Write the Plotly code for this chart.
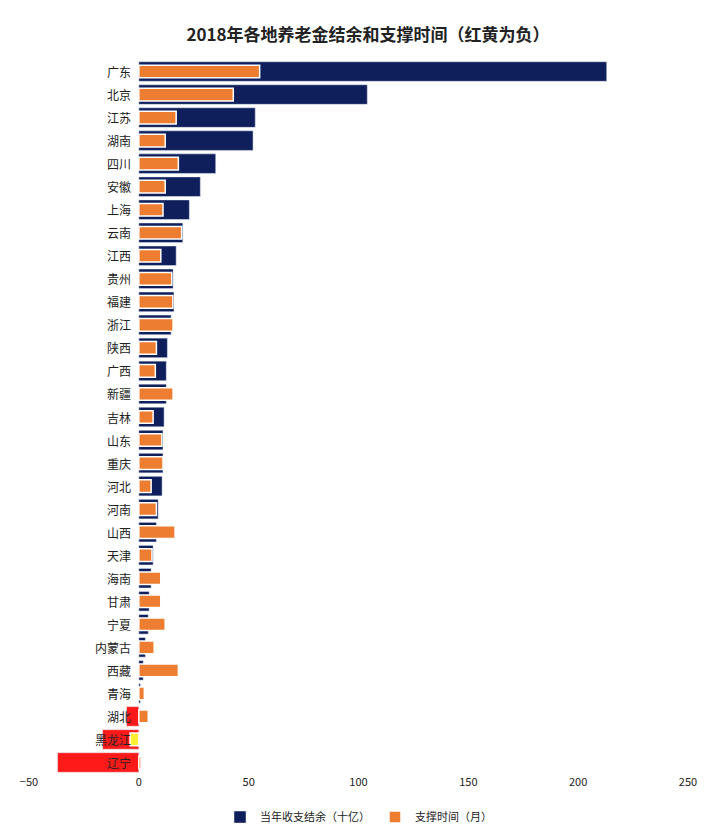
import plotly.graph_objects as go

provinces = ["广东","北京","江苏","湖南","四川","安徽","上海","云南","江西","贵州","福建","浙江","陕西","广西","新疆","吉林","山东","重庆","河北","河南","山西","天津","海南","甘肃","宁夏","内蒙古","西藏","青海","湖北","黑龙江","辽宁"]
balance = [213,104,53,52,35,28,23,20,17,15.6,16,14.7,13,12.5,12.5,11.5,11,11,10.6,8.8,8,6.5,5.6,4.7,4.3,3,2,0.7,-5.6,-16.5,-37]
months = [55,43,17,12,18,12,11,19.5,10,15,15.5,15.6,8,7.5,15.6,6.5,10.5,11,5.6,8,16.5,6,10,10,12,7,18,2.5,4.3,-4,1]

bal_colors = ["#0f1f5c" if v >= 0 else "#ff1a1a" for v in balance]
mon_colors = ["#ed7d31" if v >= 0 else "#ffee33" for v in months]

fig = go.Figure()
fig.add_trace(go.Bar(y=provinces, x=balance, orientation="h", name="当年收支结余（十亿）",
                     marker=dict(color=bal_colors), width=0.85))
fig.add_trace(go.Bar(y=provinces, x=months, orientation="h", name="支撑时间（月）",
                     marker=dict(color=mon_colors, line=dict(color="white", width=1.5)), width=0.55))

for p in provinces:
    fig.add_annotation(x=0, y=p, text=p, showarrow=False, xanchor="right", xshift=-6,
                       font=dict(size=12, color="#222"))

fig.update_layout(
    width=720, height=836, barmode="overlay", bargap=0.1,
    title=dict(text="<b>2018年各地养老金结余和支撑时间（红黄为负）</b>", x=0.5, y=0.975,
               font=dict(size=17, color="#222")),
    font=dict(family="Noto Sans CJK SC", size=11, color="#222"),
    plot_bgcolor="white", paper_bgcolor="white",
    margin=dict(l=17, r=40, t=52, b=58),
    xaxis=dict(range=[-50, 250], tickvals=[-50,0,50,100,150,200,250], showgrid=False,
               zeroline=False, showline=False, ticks=""),
    yaxis=dict(autorange="reversed", showticklabels=False, showgrid=False, zeroline=False),
    legend=dict(orientation="h", x=0.5, xanchor="center", y=-0.04, yanchor="top",
                font=dict(size=11)),
    showlegend=True,
)
fig.write_html("out.html")
